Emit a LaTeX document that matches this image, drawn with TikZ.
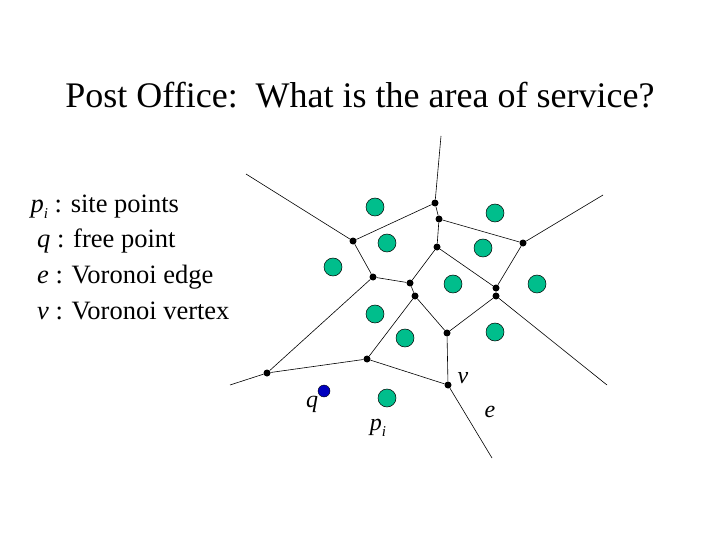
\documentclass[tikz,border=0pt]{standalone}
\usepackage{fontspec}
\setmainfont{Liberation Serif}
\newcommand{\subi}{\raisebox{-0.25em}{\fontsize{15}{15}\selectfont\itshape i}}
\begin{document}
\begin{tikzpicture}[x=1pt,y=-1pt,
  vx/.style={circle,fill=black,inner sep=0pt,minimum size=7pt},
  site/.style={circle,draw=black,inner sep=0pt,minimum size=18pt,line width=0.5pt},
  ed/.style={line width=0.6pt},
  lab/.style={font=\fontsize{24}{26}\selectfont\itshape}]
\useasboundingbox (0,0) rectangle (720,540);
\definecolor{sitec}{RGB}{0,190,140}
\tikzset{site/.append style={fill=sitec}}
\node (title) at (360,95) {\fontsize{36}{40}\selectfont Post Office:\ \ What is the area of service?};
\node[anchor=west,align=left,font=\fontsize{26.5}{35.7}\selectfont] (leg) at (27,257) {%
\textit{p}\subi\ : site points\\ \ \textit{q} : free point\\ \ \textit{e} : Voronoi edge\\ \ \textit{v} : Voronoi vertex};
\coordinate (tA) at (441,136); \coordinate (tC) at (246,174); \coordinate (tE) at (603,195);
\coordinate (tM) at (230,385); \coordinate (tJ) at (607,385); \coordinate (tN) at (492,458);
\node[vx] (A) at (435,203) {}; \node[vx] (B) at (439,219) {};
\node[vx] (C) at (353,241) {}; \node[vx] (D) at (437,247) {};
\node[vx] (E) at (523,243) {}; \node[vx] (F) at (373,277) {};
\node[vx] (G) at (410,283) {}; \node[vx] (H) at (415,296) {};
\node[vx] (I) at (496,288) {}; \node[vx] (J) at (496,296) {};
\node[vx] (K) at (447,333) {}; \node[vx] (L) at (367,359) {};
\node[vx] (M) at (267,373) {}; \node[vx] (N) at (448,385) {};
\draw[ed] (tA)--(A) (A)--(C) (A)--(B) (B)--(D) (B)--(E) (tC)--(C) (C)--(F) (F)--(G) (G)--(D)
 (D)--(I) (E)--(I) (E)--(tE) (F)--(M) (M)--(tM) (M)--(L) (L)--(H) (G)--(H) (H)--(K) (K)--(J)
 (J)--(I) (J)--(tJ) (K)--(N) (L)--(N) (N)--(tN);
\foreach \p [count=\i] in {(375,207),(495,213),(387,243),(483,248),(333,267),(453,284),(537,284),(375,314),(405,338),(495,332),(387,398)}
  \node[site] (s\i) at \p {};
\node[circle,draw=black,fill=blue!75!black,inner sep=0pt,minimum size=12pt,line width=0.4pt] (q) at (324,391) {};
\node[lab] (lv) at (463,378) {v};
\node[lab] (lq) at (312,404) {q};
\node[lab] (lp) at (378,428) {p\subi};
\node[lab] (le) at (490,412) {e};
\end{tikzpicture}
\end{document}
